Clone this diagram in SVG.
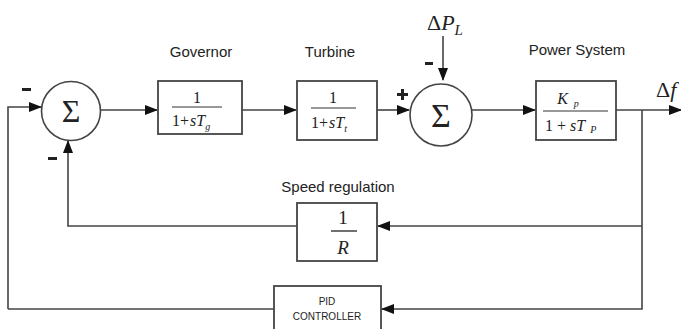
<svg xmlns="http://www.w3.org/2000/svg" width="681" height="329" viewBox="0 0 681 329">
<defs>
<marker id="ah" markerWidth="13" markerHeight="10" refX="12" refY="5" orient="auto" markerUnits="userSpaceOnUse">
<path d="M0,0 L13,5 L0,10 Z" fill="#111"/>
</marker>
</defs>
<style>
.ln{fill:none;stroke:#444;stroke-width:1.6}
.bx{fill:#fff;stroke:#444;stroke-width:1.8}
.lbl{font-family:"Liberation Sans",Arial,sans-serif;font-size:15px;fill:#222}
.m{font-family:"Liberation Serif","Times New Roman",serif;fill:#222}
.mi{font-family:"Liberation Serif","Times New Roman",serif;font-style:italic;fill:#222}
.sm{font-family:"Liberation Sans",Arial,sans-serif;font-size:10px;fill:#222}
</style>
<rect width="681" height="329" fill="#fff"/>
<g id="connectors">
<path class="ln" d="M8,309 L8,107 L41,107" marker-end="url(#ah)"/>
<path class="ln" d="M101,110 L157,110" marker-end="url(#ah)"/>
<path class="ln" d="M242,110 L296,110" marker-end="url(#ah)"/>
<path class="ln" d="M377,110 L409,110" marker-end="url(#ah)"/>
<path class="ln" d="M443,36 L443,80" marker-end="url(#ah)"/>
<path class="ln" d="M472,110 L535,110" marker-end="url(#ah)"/>
<path class="ln" d="M616,110 L681,110" marker-end="url(#ah)"/>
<path class="ln" d="M642,110 L642,309 L382,309" marker-end="url(#ah)"/>
<path class="ln" d="M642,226 L378,226" marker-end="url(#ah)"/>
<path class="ln" d="M297,226 L68,226 L68,141" marker-end="url(#ah)"/>
<path class="ln" d="M274,309 L8,309"/>
</g>
<g id="sum1">
<circle cx="71" cy="111" r="29.5" fill="#fff" stroke="#444" stroke-width="1.6"/>
<text class="m" x="71" y="122" font-size="32" text-anchor="middle">Σ</text>
<rect x="22" y="88" width="9" height="3" fill="#222"/>
<rect x="48" y="157" width="9" height="3" fill="#222"/>
</g>
<g id="governor">
<text class="lbl" x="201" y="57" text-anchor="middle">Governor</text>
<rect class="bx" x="158" y="81" width="84" height="53"/>
<text class="m" x="197" y="103" font-size="16" text-anchor="middle">1</text>
<line x1="172" y1="107" x2="222" y2="107" stroke="#333" stroke-width="1"/>
<text class="m" x="172" y="126" font-size="16">1+<tspan class="mi" dx="1">sT</tspan><tspan class="mi" font-size="10" dy="4">g</tspan></text>
</g>
<g id="turbine">
<text class="lbl" x="330" y="57" text-anchor="middle">Turbine</text>
<rect class="bx" x="297" y="81" width="80" height="59"/>
<text class="m" x="333" y="103" font-size="16" text-anchor="middle">1</text>
<line x1="311" y1="108" x2="356" y2="108" stroke="#333" stroke-width="1"/>
<text class="m" x="311" y="128" font-size="16">1+<tspan class="mi" dx="1">sT</tspan><tspan class="mi" font-size="10" dy="4">t</tspan></text>
</g>
<g id="sum2">
<circle cx="441" cy="115" r="31" fill="#fff" stroke="#444" stroke-width="1.6"/>
<text class="m" x="441" y="127" font-size="34" text-anchor="middle">Σ</text>
<text class="m" x="427" y="30" font-size="22">Δ<tspan class="mi">P</tspan><tspan class="mi" font-size="15" dy="5">L</tspan></text>
<rect x="425" y="62" width="8" height="3" fill="#222"/>
<rect x="397" y="93" width="11" height="3" fill="#222"/>
<rect x="401" y="89" width="3" height="11" fill="#222"/>
</g>
<g id="power">
<text class="lbl" x="577" y="55" text-anchor="middle">Power System</text>
<rect class="bx" x="536" y="81" width="80" height="59"/>
<text class="mi" x="568" y="104" font-size="16" text-anchor="middle">K<tspan font-size="10" dx="6" dy="3">p</tspan></text>
<line x1="543" y1="111" x2="608" y2="111" stroke="#333" stroke-width="1"/>
<text class="m" x="545" y="131" font-size="16">1 + <tspan class="mi">sT</tspan><tspan class="mi" font-size="10" dx="5" dy="2">P</tspan></text>
</g>
<g id="droop">
<text class="lbl" x="338" y="192" text-anchor="middle">Speed regulation</text>
<rect class="bx" x="297" y="203" width="80" height="58"/>
<text class="m" x="343" y="224" font-size="19" text-anchor="middle">1</text>
<line x1="331" y1="231" x2="357" y2="231" stroke="#333" stroke-width="1.4"/>
<text class="mi" x="343" y="254" font-size="19" text-anchor="middle">R</text>
</g>
<g id="pid">
<rect class="bx" x="274" y="286" width="107" height="50"/>
<text class="sm" x="327" y="305" text-anchor="middle">PID</text>
<text class="sm" x="327" y="320" text-anchor="middle">CONTROLLER</text>
</g>
<g id="output">
<text class="m" x="656" y="97" font-size="22">Δ<tspan class="mi">f</tspan></text>
</g>
</svg>
